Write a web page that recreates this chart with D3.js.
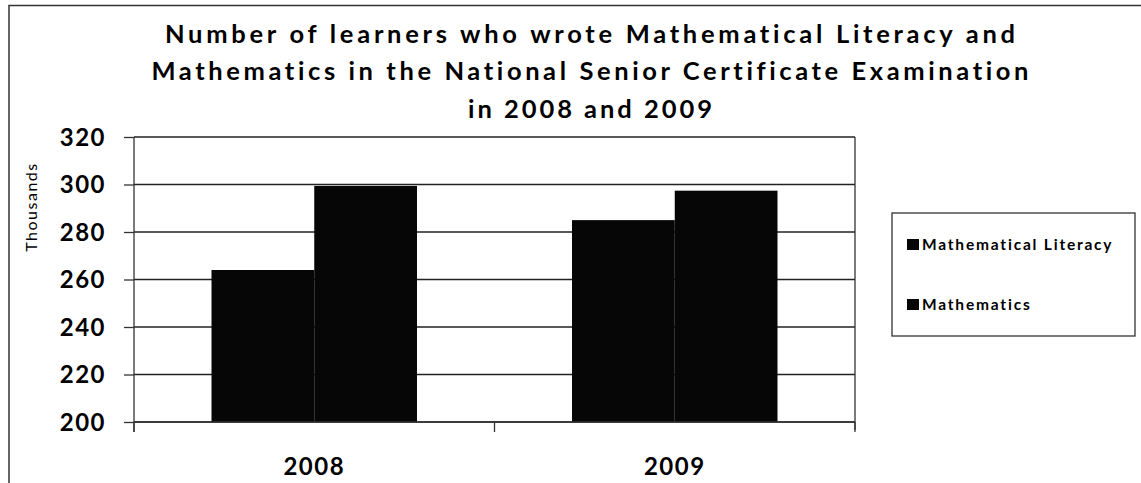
<!DOCTYPE html>
<html><head><meta charset="utf-8">
<script src="https://cdn.jsdelivr.net/npm/d3@7"></script>
<style>html,body{margin:0;padding:0;background:#fff;}svg{display:block;}text{font-variant-ligatures:none;}</style>
</head><body>
<script>
const categories = ["2008", "2009"];
const seriesNames = ["Mathematical Literacy", "Mathematics"];
const mathLiteracy = [264, 285];
const mathematics = [299.4, 297.4];
const yTicks = [200, 220, 240, 260, 280, 300, 320];
const titleLines = [
  "Number of learners who wrote Mathematical Literacy and",
  "Mathematics in the National Senior Certificate Examination",
  "in 2008 and 2009"
];
const yAxisTitle = "Thousands";

const W = 1141, H = 483;
const svg = d3.select("body").append("svg").attr("width", W).attr("height", H);
const font = "Lato, 'Open Sans', sans-serif";

// outer chart border
svg.append("path").attr("d", `M9,${H} V5.5 H${W}`)
  .attr("fill", "none").attr("stroke", "#333").attr("stroke-width", 1.5);

const plot = {left: 134, right: 855, top: 137, bottom: 422};
const y = d3.scaleLinear().domain([200, 320]).range([plot.bottom, plot.top]);
const x0 = d3.scaleBand().domain(categories).range([plot.left, plot.right]).paddingInner(0.43).paddingOuter(0.215);
const x1 = d3.scaleBand().domain(seriesNames).range([0, x0.bandwidth()]);

// gridlines
svg.append("g").selectAll("line").data(yTicks).join("line")
  .attr("x1", plot.left).attr("x2", plot.right)
  .attr("y1", d => y(d)).attr("y2", d => y(d))
  .attr("stroke", "#222").attr("stroke-width", 1.3);

// plot right border
svg.append("line").attr("x1", plot.right).attr("x2", plot.right)
  .attr("y1", plot.top).attr("y2", plot.bottom + 8)
  .attr("stroke", "#333").attr("stroke-width", 1.3);

// bars
const data = categories.map((c, i) => ({cat: c, vals: [
  {s: seriesNames[0], v: mathLiteracy[i]},
  {s: seriesNames[1], v: mathematics[i]}
]}));
svg.append("g").selectAll("g").data(data).join("g")
  .attr("transform", d => `translate(${x0(d.cat)},0)`)
  .selectAll("rect").data(d => d.vals).join("rect")
  .attr("x", d => x1(d.s)).attr("width", x1.bandwidth())
  .attr("y", d => y(d.v)).attr("height", d => y(200) - y(d.v))
  .attr("fill", "#060606");

// y axis
const yAxis = svg.append("g").attr("transform", `translate(${plot.left},0)`)
  .call(d3.axisLeft(y).tickValues(yTicks).tickSize(10).tickPadding(18));
yAxis.select(".domain").attr("stroke", "#333").attr("stroke-width", 1.3)
  .attr("d", `M0,${plot.top}V${plot.bottom + 10}`);
yAxis.selectAll(".tick line").attr("stroke", "#333").attr("stroke-width", 1.3);
yAxis.selectAll("text").attr("font-family", font).attr("font-weight", "bold")
  .attr("font-size", 24).attr("fill", "#000").attr("letter-spacing", 1.5)
  .attr("dy", "0.35em");

// x axis
const xAxis = svg.append("g").attr("transform", `translate(0,${plot.bottom})`);
xAxis.append("line").attr("x1", plot.left).attr("x2", plot.right)
  .attr("stroke", "#333").attr("stroke-width", 1.3);
const xBounds = [plot.left, (plot.left + plot.right) / 2, plot.right];
xAxis.selectAll(".xt").data(xBounds).join("line").attr("class", "xt")
  .attr("x1", d => d).attr("x2", d => d).attr("y1", 0).attr("y2", 10)
  .attr("stroke", "#333").attr("stroke-width", 1.3);
xAxis.selectAll("text").data(categories).join("text")
  .attr("x", d => x0(d) + x0.bandwidth() / 2).attr("y", 53)
  .attr("text-anchor", "middle").attr("font-family", font).attr("font-weight", "bold")
  .attr("font-size", 24).attr("letter-spacing", 1.5).text(d => d);

// y title
svg.append("text").attr("transform", "translate(37,207) rotate(-90)")
  .attr("text-anchor", "middle").attr("font-family", font)
  .attr("font-size", 16).attr("letter-spacing", 1.5).text(yAxisTitle);

// title
const tl = [[43, 850], [80, 877], [118, 244]];
svg.append("g").selectAll("text").data(titleLines).join("text")
  .attr("x", 590).attr("y", (d, i) => tl[i][0])
  .attr("text-anchor", "middle").attr("font-family", font).attr("font-weight", "bold")
  .attr("font-size", 25.5).attr("textLength", (d, i) => tl[i][1])
  .attr("lengthAdjust", "spacing").text(d => d);

// legend
svg.append("rect").attr("x", 892).attr("y", 213).attr("width", 243).attr("height", 123)
  .attr("fill", "#fff").attr("stroke", "#333").attr("stroke-width", 1.3);
const leg = svg.append("g").selectAll("g").data(seriesNames).join("g")
  .attr("transform", (d, i) => `translate(907,${245 + i * 60})`);
leg.append("rect").attr("x", 0).attr("y", -6).attr("width", 12).attr("height", 11).attr("fill", "#060606");
leg.append("text").attr("x", 15).attr("y", 5).attr("font-family", font).attr("font-weight", "bold")
  .attr("font-size", 15.5).attr("letter-spacing", 1.8).text(d => d);
</script>
</body></html>
